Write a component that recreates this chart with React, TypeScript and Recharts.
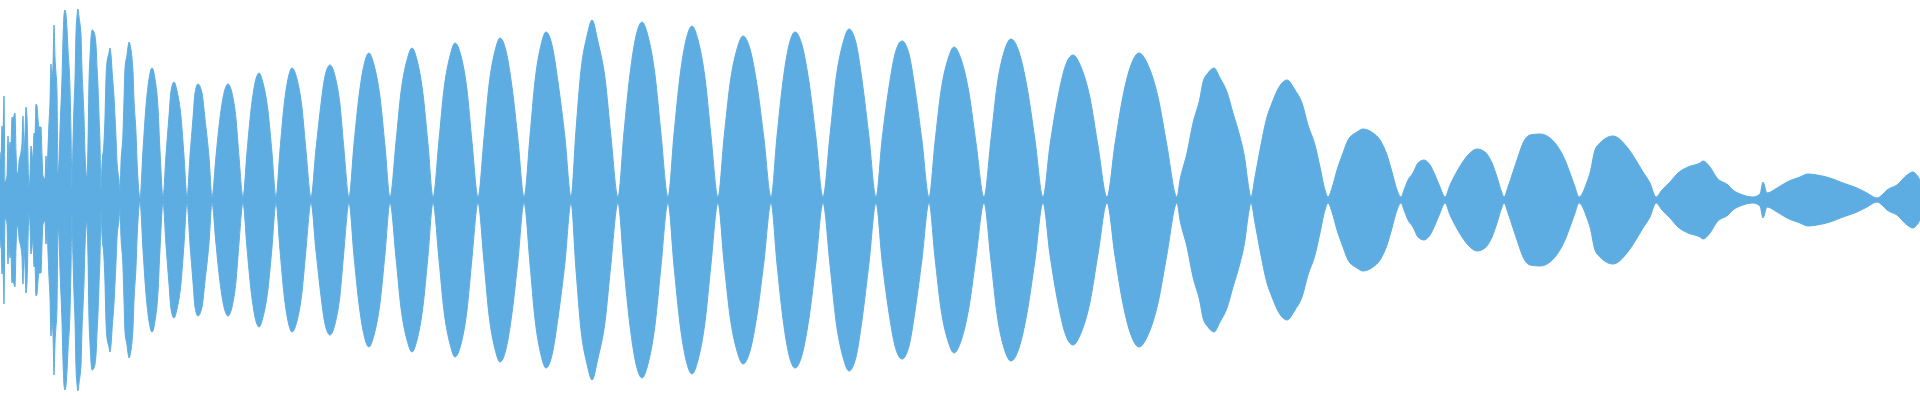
import React from 'react';
import { AreaChart, Area, XAxis, YAxis } from 'recharts';

// Waveform envelope: [column, peak amplitude in px from the centre line]
// Attack: irregular spikes before the beating settles
const onset: [number, number][] = [
  [0, 48], [1, 40], [2, 74], [3, 67], [4, 104], [5, 18], [7, 24], [8, 64], [9, 39], [10, 58],
  [11, 55], [12, 83], [13, 81], [15, 87], [16, 48], [17, 28], [18, 26], [19, 38], [21, 48], [22, 57],
  [23, 84], [24, 48], [25, 67], [26, 93], [27, 82], [29, 13], [30, 25], [31, 54], [33, 40], [34, 67],
  [35, 66], [36, 96], [37, 94], [38, 81], [39, 73], [41, 73], [42, 45], [43, 24], [45, 21], [46, 44],
  [47, 31], [48, 52], [49, 77], [50, 98], [51, 136], [52, 122], [53, 134], [54, 175], [55, 143], [57, 107],
  [58, 28], [59, 38], [60, 70], [62, 122], [63, 160], [64, 185], [65, 190], [66, 185], [67, 171], [68, 150],
  [70, 112], [71, 67], [72, 13], [73, 58], [74, 94], [75, 120], [76, 167], [77, 184], [78, 191], [79, 183],
  [81, 165], [82, 130], [83, 107], [84, 83], [85, 47], [87, 22], [88, 56], [89, 118], [90, 143], [92, 170],
  [94, 168], [96, 155], [97, 133], [98, 113], [99, 85], [100, 57], [101, 9], [102, 35], [104, 58], [105, 83],
  [106, 122], [107, 138], [109, 147], [110, 152], [111, 145], [112, 130], [114, 103], [115, 83], [116, 62], [117, 38],
  [119, 20], [120, 8], [121, 37], [123, 67], [124, 100], [125, 132], [127, 145], [128, 153], [129, 158], [131, 150],
  [132, 142], [133, 128], [134, 100], [136, 67], [137, 40], [138, 20],
];

// Main beating, one row per lobe: node, three points up the rise, crest, three points down
const beats: [number, number][] = [
  [140, 2], [143, 50], [146, 94], [149, 121], [152, 132], [155, 121], [158, 92], [160, 49],
  [163, 3], [166, 45], [169, 84], [171, 109], [174, 118], [177, 109], [181, 83], [184, 44],
  [187, 3], [190, 44], [193, 82], [195, 107], [198, 116], [202, 107], [205, 81], [209, 43],
  [212, 3], [216, 44], [220, 82], [224, 107], [228, 116], [232, 107], [236, 81], [239, 43],
  [243, 3], [247, 48], [251, 90], [255, 117], [259, 127], [263, 117], [268, 89], [272, 47],
  [276, 3], [280, 50], [284, 94], [288, 121], [292, 132], [297, 121], [302, 92], [306, 49],
  [311, 3], [316, 51], [321, 96], [325, 124], [330, 135], [335, 124], [340, 95], [344, 50],
  [349, 3], [354, 56], [359, 104], [364, 135], [369, 147], [374, 135], [380, 103], [385, 54],
  [390, 3], [396, 58], [401, 108], [407, 140], [412, 152], [417, 140], [423, 106], [428, 56],
  [433, 3], [439, 60], [444, 111], [450, 144], [455, 157], [461, 144], [467, 110], [472, 58],
  [478, 3], [484, 62], [489, 115], [495, 149], [500, 162], [506, 149], [512, 113], [518, 60],
  [524, 3], [530, 64], [535, 119], [541, 155], [546, 168], [552, 155], [558, 118], [565, 62],
  [571, 3], [576, 70], [581, 130], [587, 164], [592, 180], [598, 158], [605, 122], [611, 63],
  [618, 3], [624, 68], [630, 126], [636, 164], [642, 178], [648, 164], [655, 125], [661, 66],
  [668, 3], [674, 66], [680, 124], [686, 160], [692, 174], [698, 160], [705, 122], [711, 64],
  [718, 3], [724, 62], [730, 116], [737, 151], [743, 164], [750, 151], [757, 115], [764, 61],
  [771, 3], [777, 64], [783, 119], [789, 155], [795, 168], [802, 155], [809, 118], [816, 62],
  [823, 3], [830, 65], [836, 121], [843, 157], [849, 171], [856, 157], [862, 120], [869, 63],
  [876, 3], [882, 60], [889, 113], [895, 146], [902, 159], [909, 146], [915, 111], [922, 59],
  [929, 3], [935, 58], [941, 109], [948, 141], [954, 153], [961, 141], [969, 107], [976, 57],
  [984, 3], [991, 61], [997, 114], [1004, 148], [1011, 161], [1019, 148], [1027, 113], [1035, 60],
  [1043, 3], [1050, 55], [1058, 103], [1065, 133], [1073, 145], [1081, 133], [1090, 102], [1098, 54],
  [1107, 3], [1115, 56], [1123, 104], [1131, 135], [1139, 147], [1148, 135], [1158, 103], [1167, 54],
];

// Decay: the beats shrink and break up
const decay: [number, number][] = [
  [1177, 3], [1180, 20], [1187, 47], [1193, 77], [1200, 102], [1203, 118], [1208, 127], [1214, 132],
  [1220, 122], [1227, 108], [1233, 87], [1240, 63], [1245, 40], [1248, 17],
  [1251, 3], [1255, 23], [1260, 50], [1267, 83], [1272, 97], [1278, 111], [1287, 120], [1295, 110],
  [1302, 97], [1308, 75], [1315, 55], [1320, 33], [1325, 10],
  [1328, 3], [1332, 12], [1337, 30], [1343, 47], [1348, 60], [1357, 68], [1363, 71], [1373, 67],
  [1380, 60], [1387, 45], [1392, 28], [1397, 10],
  [1401, 3], [1404, 10], [1408, 20], [1413, 27], [1418, 37], [1424, 40], [1430, 35], [1435, 25], [1440, 13],
  [1445, 3], [1450, 15], [1455, 25], [1462, 37], [1468, 45], [1477, 51], [1485, 48], [1492, 37], [1497, 23], [1502, 7],
  [1504, 3], [1508, 13], [1513, 28], [1518, 43], [1523, 57], [1530, 65], [1540, 66], [1550, 62], [1558, 53],
  [1565, 40], [1570, 27], [1575, 13],
  [1579, 3], [1587, 18], [1590, 27], [1595, 50], [1600, 57], [1613, 64], [1627, 53], [1637, 38], [1643, 28], [1650, 17],
];

// Noisy tail
const tail: [number, number][] = [
  [1656, 3], [1662, 10], [1670, 18], [1678, 27], [1688, 33], [1700, 37], [1703, 39], [1710, 33], [1717, 22],
  [1728, 15], [1733, 10], [1743, 5], [1753, 3], [1760, 6], [1763, 18], [1767, 7], [1777, 12], [1787, 18],
  [1800, 23], [1808, 26], [1817, 25], [1830, 22], [1843, 17], [1857, 12], [1867, 7], [1877, 2], [1882, 5],
  [1887, 10], [1897, 15], [1907, 25], [1913, 28], [1920, 20],
];

const WAVE_COLOR = '#5DADE2';

const data = [...onset, ...beats, ...decay, ...tail].map(([x, amp]) => ({
  x,
  band: [-amp, amp],
}));

const App: React.FC = () => {
  return (
    <div style={{ position: 'absolute', left: 0, top: 0, width: 1920, height: 400 }}>
      <AreaChart width={1920} height={400} data={data} margin={{ top: 0, right: 0, bottom: 0, left: 0 }}>
        <XAxis dataKey="x" type="number" domain={[0, 1920]} hide />
        <YAxis type="number" domain={[-200, 200]} hide />
        <Area
          type="monotone"
          dataKey="band"
          stroke={WAVE_COLOR}
          strokeWidth={1}
          fill={WAVE_COLOR}
          fillOpacity={1}
          dot={false}
          activeDot={false}
          isAnimationActive={false}
        />
      </AreaChart>
    </div>
  );
};

export default App;
